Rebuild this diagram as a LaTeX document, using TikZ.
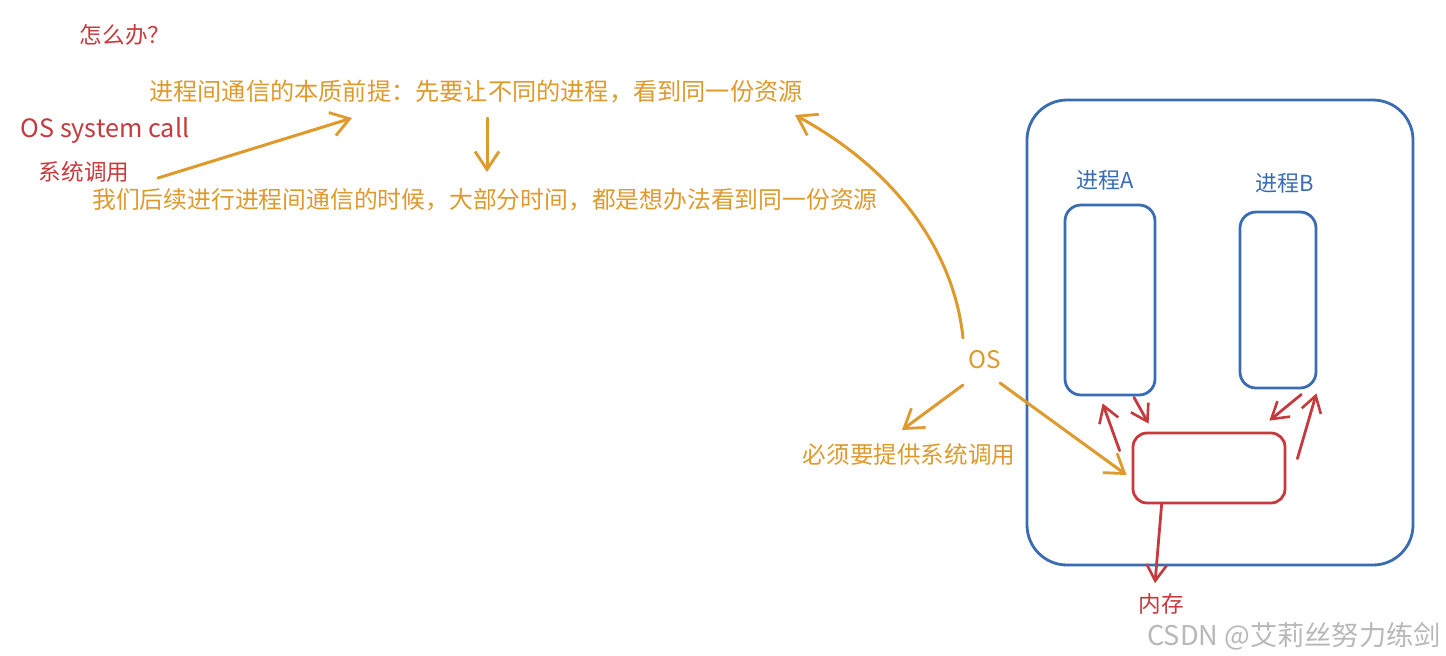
\documentclass[tikz,border=0pt]{standalone}
\usepackage{fontspec}
\setmainfont{Noto Sans CJK SC}
\usetikzlibrary{arrows.meta}
\definecolor{org}{HTML}{DE9A2C}
\definecolor{rd}{HTML}{C63A3E}
\definecolor{bl}{HTML}{3A6CB4}
\definecolor{wm}{HTML}{B8B8B8}
\tikzset{
  otext/.style={text=org, inner sep=0pt, font=\fontsize{12.1}{14}\selectfont},
  rtext/.style={text=rd, inner sep=0pt, font=\fontsize{11.3}{13}\selectfont},
  btext/.style={text=bl, inner sep=0pt, font=\fontsize{11}{13}\selectfont},
  oarr/.style={draw=org, line width=1.5pt, line cap=round, -{Straight Barb[length=9pt,width=12pt,line width=1.4pt]}},
  rarr/.style={draw=rd, line width=1.4pt, line cap=round, -{Straight Barb[length=8pt,width=10pt,line width=1.3pt]}},
  bbox/.style={draw=bl, line width=1.4pt, rounded corners=8pt, inner sep=0pt},
  rbox/.style={draw=rd, line width=1.4pt, rounded corners=7pt, inner sep=0pt},
}
\begin{document}
\begin{tikzpicture}[x=0.5pt,y=-0.5pt]
\useasboundingbox[fill=white] (0,0) rectangle (1446,655);
% texts
\node[rtext] (q) at (125,35) {怎么办？};
\node[otext] (t1) at (476,92) {进程间通信的本质前提：先要让不同的进程，看到同一份资源};
\node[rtext, font=\fontsize{12.6}{14}\selectfont] (osc) at (105,130) {OS system call};
\node[rtext] (sys) at (84,172) {系统调用};
\node[otext, font=\fontsize{11.9}{14}\selectfont] (t2) at (485,200) {我们后续进行进程间通信的时候，大部分时间，都是想办法看到同一份资源};
\node[otext] (os) at (985,360) {OS};
\node[otext, font=\fontsize{11.8}{14}\selectfont] (must) at (909,455) {必须要提供系统调用};
% boxes
\node[bbox, rounded corners=20pt, minimum width=193pt, minimum height=232.5pt] (outer) at (1220,332.5) {};
\node[bbox, minimum width=45pt, minimum height=95pt] (A) at (1110,300) {};
\node[bbox, minimum width=38pt, minimum height=88pt] (B) at (1278,300) {};
\node[btext] (la) at (1105,180) {进程\textit{A}};
\node[btext] (lb) at (1285,183) {进程B};
\node[rbox, minimum width=76pt, minimum height=35pt] (mem) at (1209,468) {};
\node[rtext] (nc) at (1161,604) {内存};
\node[text=wm, inner sep=0pt, font=\fontsize{13.6}{15}\selectfont] (wmk) at (1294,636) {CSDN @艾莉丝努力练剑};
% orange arrows
\draw[oarr] ([shift={(74,6)}]sys.center) -- ([shift={(-124,26)}]t1.center);
\draw[oarr] ([shift={(11,26)}]t1.center) -- ([shift={(2,-28)}]t2.center);
\draw[oarr] ([shift={(-22,-22)}]os.center) .. controls (955,260) and (905,175) .. ([shift={(319,23)}]t1.center);
\draw[oarr] ([shift={(-22,25)}]os.center) -- ([shift={(-7,-25)}]must.center);
\draw[oarr] ([shift={(15,23)}]os.center) -- ([shift={(-5,7)}]mem.west);
% red arrows
\draw[rarr] ([shift={(-12,19)}]mem.north west) -- ([shift={(39,7)}]A.south west);
\draw[rarr] ([shift={(24,1)}]A.south) -- ([shift={(17,-8)}]mem.north west);
\draw[rarr] ([shift={(11,27)}]mem.north east) -- ([shift={(-1,4)}]B.south east);
\draw[rarr] ([shift={(-16,5)}]B.south east) -- ([shift={(-17,-11)}]mem.north east);
\draw[rarr] ([shift={(30,0)}]mem.south west) -- ([shift={(-6,-10)}]nc.north);
\end{tikzpicture}
\end{document}
